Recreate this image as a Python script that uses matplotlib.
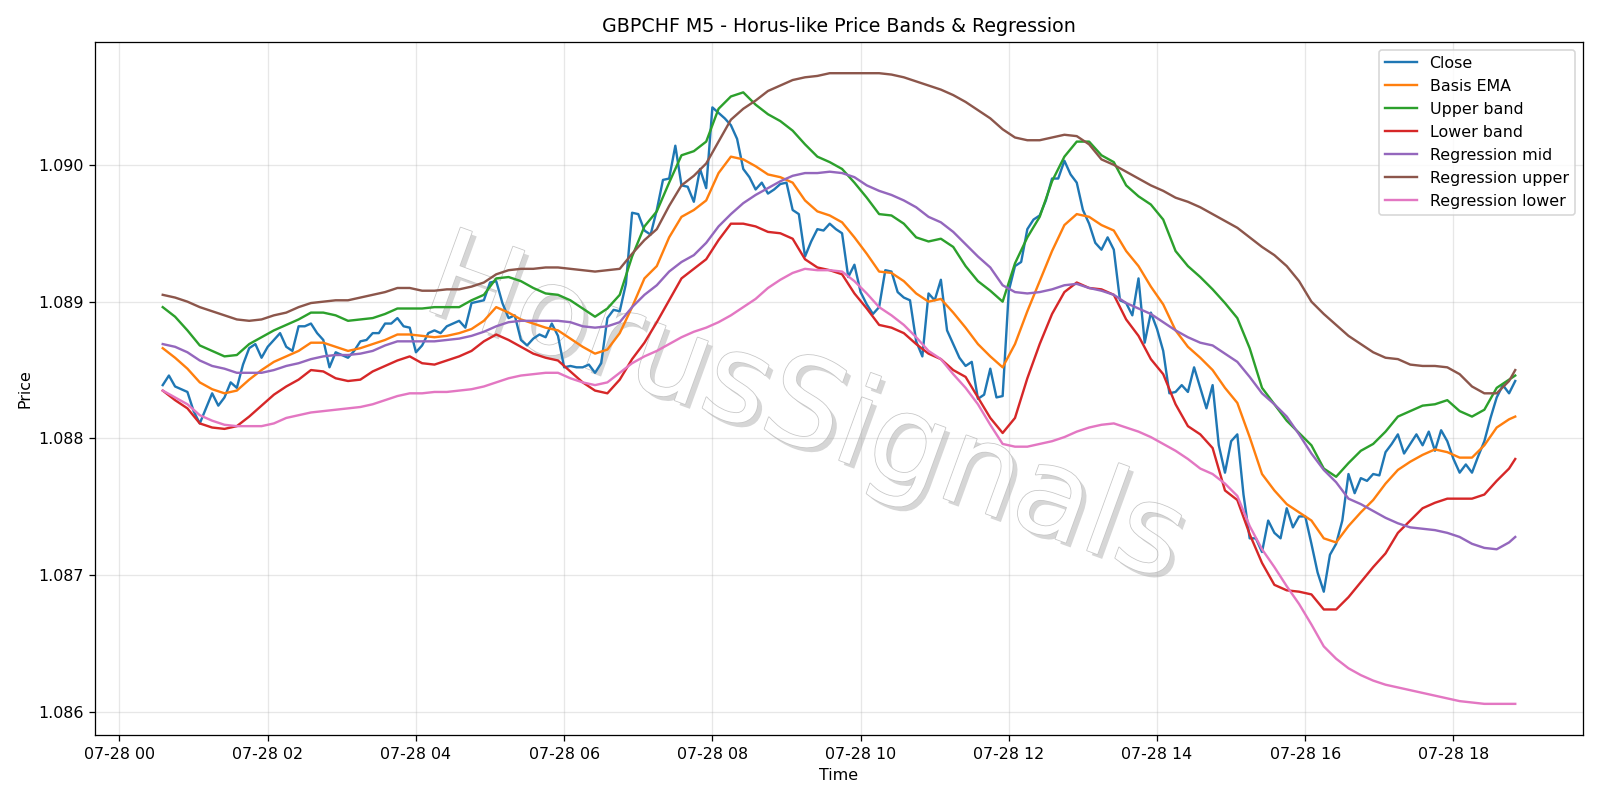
import numpy as np
import pandas as pd
import matplotlib
matplotlib.use("Agg")
import matplotlib.pyplot as plt
import matplotlib.dates as mdates
import matplotlib.patheffects as pe

# Close, 5-minute bars 07-28 00:35 .. 18:50 (one row per hour)
close = [
    1.08839, 1.08846, 1.08838, 1.08836, 1.08834,
    1.08820, 1.08811, 1.08822, 1.08833, 1.08824, 1.08830, 1.08841, 1.08837, 1.08854, 1.08866, 1.08869, 1.08859,
    1.08867, 1.08872, 1.08877, 1.08867, 1.08864, 1.08882, 1.08882, 1.08884, 1.08877, 1.08872, 1.08852, 1.08863,
    1.08861, 1.08859, 1.08864, 1.08871, 1.08872, 1.08877, 1.08877, 1.08884, 1.08884, 1.08888, 1.08882, 1.08881,
    1.08863, 1.08868, 1.08877, 1.08879, 1.08877, 1.08882, 1.08884, 1.08886, 1.08881, 1.08899, 1.08900, 1.08901,
    1.08914, 1.08915, 1.08899, 1.08888, 1.08890, 1.08872, 1.08868, 1.08873, 1.08876, 1.08874, 1.08884, 1.08875,
    1.08852, 1.08853, 1.08852, 1.08852, 1.08854, 1.08848, 1.08855, 1.08888, 1.08894, 1.08893, 1.08913, 1.08965,
    1.08964, 1.08952, 1.08949, 1.08967, 1.08989, 1.08990, 1.09014, 1.08985, 1.08984, 1.08973, 1.08997, 1.08983,
    1.09042, 1.09038, 1.09034, 1.09029, 1.09019, 1.08997, 1.08991, 1.08982, 1.08987, 1.08979, 1.08982, 1.08986,
    1.08987, 1.08967, 1.08964, 1.08933, 1.08944, 1.08953, 1.08952, 1.08957, 1.08953, 1.08950, 1.08918, 1.08927,
    1.08907, 1.08898, 1.08891, 1.08896, 1.08923, 1.08922, 1.08907, 1.08903, 1.08901, 1.08871, 1.08860, 1.08906,
    1.08901, 1.08916, 1.08879, 1.08869, 1.08859, 1.08853, 1.08856, 1.08829, 1.08832, 1.08851, 1.08830, 1.08831,
    1.08908, 1.08926, 1.08929, 1.08953, 1.08960, 1.08963, 1.08974, 1.08990, 1.08990, 1.09003, 1.08993, 1.08987,
    1.08967, 1.08957, 1.08943, 1.08938, 1.08947, 1.08938, 1.08901, 1.08899, 1.08890, 1.08917, 1.08870, 1.08892,
    1.08880, 1.08864, 1.08833, 1.08834, 1.08839, 1.08834, 1.08852, 1.08837, 1.08822, 1.08839, 1.08795, 1.08775,
    1.08798, 1.08803, 1.08759, 1.08727, 1.08727, 1.08717, 1.08740, 1.08731, 1.08727, 1.08749, 1.08735, 1.08743,
    1.08743, 1.08723, 1.08702, 1.08688, 1.08715, 1.08723, 1.08740, 1.08774, 1.08760, 1.08771, 1.08769, 1.08774,
    1.08773, 1.08790, 1.08796, 1.08803, 1.08789, 1.08796, 1.08803, 1.08795, 1.08805, 1.08791, 1.08806, 1.08798,
    1.08785, 1.08775, 1.08781, 1.08775, 1.08787, 1.08798, 1.08815, 1.08830, 1.08839, 1.08833, 1.08842,
]

# bands / regression read every 10 minutes (00:35, 00:45 ... 18:45, 18:50)
basis_ema = [
    1.08866, 1.08859, 1.08851,
    1.08841, 1.08836, 1.08833, 1.08835, 1.08843, 1.08850,
    1.08856, 1.08860, 1.08864, 1.08870, 1.08870, 1.08867,
    1.08864, 1.08866, 1.08869, 1.08872, 1.08876, 1.08876,
    1.08875, 1.08874, 1.08875, 1.08877, 1.08880, 1.08886,
    1.08896, 1.08892, 1.08887, 1.08884, 1.08881, 1.08879,
    1.08873, 1.08867, 1.08862, 1.08865, 1.08877, 1.08896,
    1.08917, 1.08926, 1.08947, 1.08962, 1.08967, 1.08974,
    1.08994, 1.09006, 1.09004, 1.08999, 1.08993, 1.08991,
    1.08987, 1.08974, 1.08966, 1.08963, 1.08958, 1.08947,
    1.08935, 1.08922, 1.08921, 1.08915, 1.08906, 1.08900,
    1.08902, 1.08892, 1.08881, 1.08869, 1.08860, 1.08852,
    1.08869, 1.08893, 1.08915, 1.08937, 1.08956, 1.08964,
    1.08962, 1.08956, 1.08952, 1.08937, 1.08926, 1.08911,
    1.08898, 1.08879, 1.08867, 1.08859, 1.08850, 1.08837,
    1.08826, 1.08801, 1.08774, 1.08762, 1.08752, 1.08746,
    1.08740, 1.08727, 1.08724, 1.08736, 1.08746, 1.08755,
    1.08767, 1.08777, 1.08783, 1.08788, 1.08792, 1.08790,
    1.08786, 1.08786, 1.08795, 1.08808, 1.08814, 1.08816,
]
upper_band = [
    1.08896, 1.08889, 1.08879,
    1.08868, 1.08864, 1.08860, 1.08861, 1.08869, 1.08874,
    1.08879, 1.08883, 1.08887, 1.08892, 1.08892, 1.08890,
    1.08886, 1.08887, 1.08888, 1.08891, 1.08895, 1.08895,
    1.08895, 1.08896, 1.08896, 1.08896, 1.08901, 1.08905,
    1.08917, 1.08918, 1.08915, 1.08910, 1.08906, 1.08905,
    1.08901, 1.08895, 1.08889, 1.08895, 1.08905, 1.08933,
    1.08955, 1.08966, 1.08987, 1.09007, 1.09010, 1.09017,
    1.09041, 1.09050, 1.09053, 1.09044, 1.09037, 1.09032,
    1.09025, 1.09015, 1.09006, 1.09002, 1.08997, 1.08987,
    1.08976, 1.08964, 1.08963, 1.08957, 1.08947, 1.08944,
    1.08946, 1.08940, 1.08926, 1.08915, 1.08908, 1.08900,
    1.08928, 1.08947, 1.08962, 1.08988, 1.09006, 1.09017,
    1.09017, 1.09007, 1.09002, 1.08985, 1.08977, 1.08971,
    1.08960, 1.08937, 1.08926, 1.08918, 1.08909, 1.08899,
    1.08888, 1.08866, 1.08837, 1.08825, 1.08813, 1.08804,
    1.08795, 1.08778, 1.08772, 1.08782, 1.08791, 1.08796,
    1.08805, 1.08816, 1.08820, 1.08824, 1.08825, 1.08828,
    1.08820, 1.08816, 1.08821, 1.08837, 1.08843, 1.08846,
]
lower_band = [
    1.08835, 1.08828, 1.08822,
    1.08811, 1.08808, 1.08807, 1.08809, 1.08816, 1.08824,
    1.08832, 1.08838, 1.08843, 1.08850, 1.08849, 1.08844,
    1.08842, 1.08843, 1.08849, 1.08853, 1.08857, 1.08860,
    1.08855, 1.08854, 1.08857, 1.08860, 1.08864, 1.08871,
    1.08876, 1.08872, 1.08867, 1.08862, 1.08859, 1.08857,
    1.08849, 1.08841, 1.08835, 1.08833, 1.08843, 1.08858,
    1.08870, 1.08885, 1.08901, 1.08917, 1.08924, 1.08931,
    1.08945, 1.08957, 1.08957, 1.08955, 1.08951, 1.08950,
    1.08946, 1.08931, 1.08925, 1.08923, 1.08920, 1.08906,
    1.08895, 1.08883, 1.08881, 1.08877, 1.08869, 1.08862,
    1.08858, 1.08850, 1.08845, 1.08830, 1.08815, 1.08804,
    1.08815, 1.08844, 1.08869, 1.08891, 1.08907, 1.08914,
    1.08910, 1.08909, 1.08905, 1.08887, 1.08875, 1.08858,
    1.08847, 1.08825, 1.08809, 1.08803, 1.08793, 1.08762,
    1.08755, 1.08730, 1.08709, 1.08693, 1.08689, 1.08688,
    1.08686, 1.08675, 1.08675, 1.08684, 1.08695, 1.08706,
    1.08716, 1.08731, 1.08740, 1.08749, 1.08753, 1.08756,
    1.08756, 1.08756, 1.08759, 1.08769, 1.08778, 1.08785,
]
reg_mid = [
    1.08869, 1.08867, 1.08863,
    1.08857, 1.08853, 1.08851, 1.08848, 1.08848, 1.08848,
    1.08850, 1.08853, 1.08855, 1.08858, 1.08860, 1.08861,
    1.08861, 1.08862, 1.08864, 1.08868, 1.08871, 1.08871,
    1.08871, 1.08871, 1.08872, 1.08873, 1.08875, 1.08878,
    1.08882, 1.08885, 1.08886, 1.08886, 1.08886, 1.08886,
    1.08885, 1.08882, 1.08881, 1.08882, 1.08885, 1.08896,
    1.08905, 1.08912, 1.08922, 1.08929, 1.08934, 1.08943,
    1.08955, 1.08964, 1.08972, 1.08978, 1.08983, 1.08988,
    1.08992, 1.08994, 1.08994, 1.08995, 1.08994, 1.08991,
    1.08985, 1.08981, 1.08978, 1.08974, 1.08969, 1.08962,
    1.08958, 1.08951, 1.08942, 1.08933, 1.08925, 1.08912,
    1.08907, 1.08906, 1.08907, 1.08909, 1.08912, 1.08913,
    1.08910, 1.08908, 1.08905, 1.08899, 1.08895, 1.08891,
    1.08885, 1.08879, 1.08874, 1.08870, 1.08868, 1.08862,
    1.08856, 1.08845, 1.08833, 1.08825, 1.08816, 1.08803,
    1.08789, 1.08777, 1.08768, 1.08756, 1.08752, 1.08747,
    1.08742, 1.08738, 1.08735, 1.08734, 1.08733, 1.08731,
    1.08728, 1.08723, 1.08720, 1.08719, 1.08724, 1.08728,
]
reg_upper = [
    1.08905, 1.08903, 1.08900,
    1.08896, 1.08893, 1.08890, 1.08887, 1.08886, 1.08887,
    1.08890, 1.08892, 1.08896, 1.08899, 1.08900, 1.08901,
    1.08901, 1.08903, 1.08905, 1.08907, 1.08910, 1.08910,
    1.08908, 1.08908, 1.08909, 1.08909, 1.08911, 1.08914,
    1.08920, 1.08923, 1.08924, 1.08924, 1.08925, 1.08925,
    1.08924, 1.08923, 1.08922, 1.08923, 1.08924, 1.08935,
    1.08945, 1.08953, 1.08970, 1.08985, 1.08992, 1.09001,
    1.09017, 1.09033, 1.09041, 1.09047, 1.09054, 1.09058,
    1.09062, 1.09064, 1.09065, 1.09067, 1.09067, 1.09067,
    1.09067, 1.09067, 1.09066, 1.09064, 1.09061, 1.09058,
    1.09055, 1.09051, 1.09046, 1.09040, 1.09034, 1.09026,
    1.09020, 1.09018, 1.09018, 1.09020, 1.09022, 1.09021,
    1.09015, 1.09004, 1.09000, 1.08995, 1.08990, 1.08985,
    1.08981, 1.08976, 1.08973, 1.08969, 1.08964, 1.08959,
    1.08954, 1.08947, 1.08940, 1.08934, 1.08926, 1.08915,
    1.08900, 1.08891, 1.08883, 1.08875, 1.08869, 1.08863,
    1.08859, 1.08858, 1.08854, 1.08853, 1.08853, 1.08852,
    1.08847, 1.08838, 1.08833, 1.08833, 1.08842, 1.08850,
]
reg_lower = [
    1.08835, 1.08830, 1.08825,
    1.08817, 1.08813, 1.08810, 1.08809, 1.08809, 1.08809,
    1.08811, 1.08815, 1.08817, 1.08819, 1.08820, 1.08821,
    1.08822, 1.08823, 1.08825, 1.08828, 1.08831, 1.08833,
    1.08833, 1.08834, 1.08834, 1.08835, 1.08836, 1.08838,
    1.08841, 1.08844, 1.08846, 1.08847, 1.08848, 1.08848,
    1.08844, 1.08841, 1.08839, 1.08841, 1.08848, 1.08855,
    1.08860, 1.08864, 1.08869, 1.08874, 1.08878, 1.08881,
    1.08885, 1.08890, 1.08896, 1.08902, 1.08910, 1.08916,
    1.08921, 1.08924, 1.08923, 1.08923, 1.08922, 1.08915,
    1.08906, 1.08896, 1.08890, 1.08883, 1.08874, 1.08864,
    1.08858, 1.08847, 1.08837, 1.08825, 1.08810, 1.08796,
    1.08794, 1.08794, 1.08796, 1.08798, 1.08801, 1.08805,
    1.08808, 1.08810, 1.08811, 1.08808, 1.08805, 1.08801,
    1.08796, 1.08791, 1.08785, 1.08778, 1.08774, 1.08767,
    1.08758, 1.08736, 1.08719, 1.08706, 1.08692, 1.08679,
    1.08664, 1.08648, 1.08639, 1.08632, 1.08627, 1.08623,
    1.08620, 1.08618, 1.08616, 1.08614, 1.08612, 1.08610,
    1.08608, 1.08607, 1.08606, 1.08606, 1.08606, 1.08606,
]

close_times = pd.date_range("2025-07-28 00:35", periods=len(close), freq="5min")
band_times = pd.date_range("2025-07-28 00:35", "2025-07-28 18:45", freq="10min")
band_times = band_times.append(pd.DatetimeIndex(["2025-07-28 18:50"]))

# 14x7 inches at ~114 dpi -> 1600x800 px
fig, ax = plt.subplots(figsize=(14, 7), dpi=1600 / 14)

ax.plot(close_times, close, label="Close")
ax.plot(band_times, basis_ema, label="Basis EMA")
ax.plot(band_times, upper_band, label="Upper band")
ax.plot(band_times, lower_band, label="Lower band")
ax.plot(band_times, reg_mid, label="Regression mid")
ax.plot(band_times, reg_upper, label="Regression upper")
ax.plot(band_times, reg_lower, label="Regression lower")

# watermark
ax.text(0.503, 0.485, "HorusSignals", transform=fig.transFigure, fontsize=77,
        rotation=-20, ha="center", va="center", color="white", zorder=0.5,
        path_effects=[pe.SimplePatchShadow(offset=(3, -3), shadow_rgbFace=(0.6, 0.6, 0.6), alpha=0.4),
                      pe.Stroke(linewidth=1.0, foreground=(0.78, 0.78, 0.78)),
                      pe.Normal()])

ax.xaxis.set_major_locator(mdates.HourLocator(byhour=range(0, 24, 2)))
ax.xaxis.set_major_formatter(mdates.DateFormatter("%m-%d %H"))
ax.set_title("GBPCHF M5 - Horus-like Price Bands & Regression")
ax.set_xlabel("Time")
ax.set_ylabel("Price")
ax.grid(True, alpha=0.3)
ax.legend(loc="upper right")

fig.tight_layout()
fig.savefig("out.png", dpi=1600 / 14)
